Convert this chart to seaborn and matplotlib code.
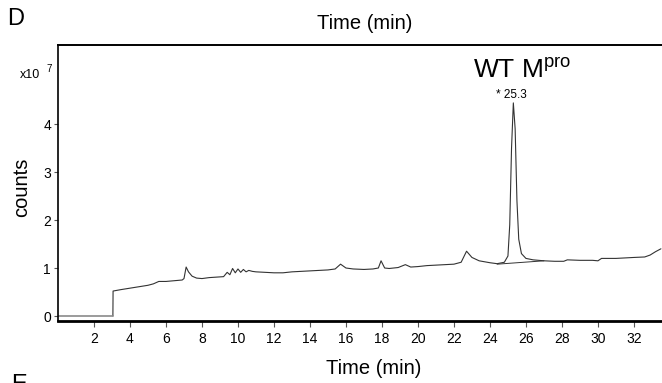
import matplotlib

matplotlib.use("Agg")
import matplotlib.pyplot as plt
import pandas as pd
import seaborn as sns

# chromatogram trace (time in min, counts in units of 1e7)
time_min = [
    3.05, 3.06, 3.5, 4.0, 4.5, 5.0, 5.3, 5.6, 6.0, 6.3, 6.6, 6.9, 7.0, 7.12, 7.25,
    7.45, 7.7, 8.0, 8.4, 8.8, 9.2, 9.4, 9.55, 9.7, 9.85, 10.0, 10.15, 10.3, 10.45,
    10.6, 10.8, 11.0, 11.5, 12.0, 12.5, 13.0, 13.5, 14.0, 14.5, 15.0, 15.4, 15.7,
    16.0, 16.4, 17.0, 17.5, 17.8, 17.95, 18.15, 18.4, 18.9, 19.3, 19.6, 20.0, 20.5,
    21.0, 21.5, 22.0, 22.4, 22.7, 23.0, 23.4, 24.0, 24.4, 24.8, 25.0, 25.1, 25.2,
    25.3, 25.4, 25.5, 25.6, 25.75, 26.0, 26.4, 27.0, 27.6, 28.1, 28.3, 29.0, 29.7,
    30.0, 30.2, 31.0, 31.5, 32.0, 32.6, 32.9, 33.2, 33.5,
]
counts_e7 = [
    0.0, 0.52, 0.55, 0.58, 0.61, 0.64, 0.67, 0.72, 0.72, 0.73, 0.74, 0.75, 0.78, 1.02, 0.92,
    0.83, 0.79, 0.78, 0.80, 0.81, 0.82, 0.91, 0.86, 0.99, 0.90, 0.98, 0.91, 0.97, 0.92,
    0.95, 0.93, 0.92, 0.91, 0.90, 0.90, 0.92, 0.93, 0.94, 0.95, 0.96, 0.98, 1.08,
    1.00, 0.98, 0.97, 0.98, 1.00, 1.15, 1.00, 0.99, 1.01, 1.07, 1.02, 1.03, 1.05,
    1.06, 1.07, 1.08, 1.12, 1.35, 1.22, 1.15, 1.11, 1.09, 1.12, 1.25, 1.90, 3.50,
    4.44, 3.90, 2.40, 1.60, 1.30, 1.20, 1.17, 1.15, 1.14, 1.14, 1.17, 1.16, 1.16,
    1.15, 1.20, 1.20, 1.21, 1.22, 1.23, 1.27, 1.34, 1.40,
]

# flat part before the injection
lead_time = [0.0, 3.05]
lead_counts = [0.0, 0.0]

# integration baseline under the main peak
base_time = [24.4, 27.0]
base_counts = [1.08, 1.15]

peak_time = 25.3
peak_label = "* 25.3"
x_ticks = list(range(2, 34, 2))
y_ticks = [0, 1, 2, 3, 4]

sns.set_style("ticks")
plt.rcParams["font.family"] = ["Liberation Sans", "DejaVu Sans"]
plt.rcParams["text.color"] = "black"
plt.rcParams["mathtext.fontset"] = "custom"
plt.rcParams["mathtext.rm"] = "Liberation Sans"
narrow = ["Liberation Sans Narrow", "Liberation Sans", "DejaVu Sans"]

fig = plt.figure(figsize=(6.62, 3.83), dpi=100)
ax = fig.add_axes([58 / 662, 1 - 321 / 383, 1 - 58 / 662, (321 - 45) / 383])

trace = pd.DataFrame({"time": time_min, "counts": counts_e7})
sns.lineplot(data=trace, x="time", y="counts", ax=ax, color="#333333", lw=0.8,
             estimator=None, sort=False)
sns.lineplot(x=lead_time, y=lead_counts, ax=ax, color="#8a8a8a", lw=1.2, estimator=None)
sns.lineplot(x=base_time, y=base_counts, ax=ax, color="#333333", lw=0.7, estimator=None)

ax.set_xlim(0, 33.56)
ax.set_ylim(-0.104, 5.646)
ax.set_xticks(x_ticks)
ax.set_yticks(y_ticks)
ax.set_xlabel("")
ax.set_ylabel("")
for lab in ax.get_xticklabels() + ax.get_yticklabels():
    lab.set_family(narrow)
    lab.set_fontsize(10)
ax.tick_params(axis="x", length=4, width=0.8, pad=4, color="#555555", labelcolor="black")
ax.tick_params(axis="y", length=3, width=0.8, pad=2, color="#555555", labelcolor="black")

ax.spines["right"].set_visible(False)
ax.spines["left"].set_linewidth(1.2)
ax.spines["top"].set_linewidth(1.4)
ax.spines["bottom"].set_linewidth(2.0)
for s in ax.spines.values():
    s.set_color("black")

ax.text(23.06, 4.96, "WT M$^{\\mathrm{pro}}$", fontsize=19, va="baseline", ha="left")
ax.text(peak_time - 0.1, 4.6, peak_label, fontsize=8.5, ha="center", va="center",
        family=narrow)

fig.text(40 / 662, 1 - 75 / 383, "x10", fontsize=9, ha="right", va="center", family=narrow)
fig.text(46 / 662, 1 - 69 / 383, "7", fontsize=7, ha="left", va="center", family=narrow)
fig.text(7 / 662, 1 - 8 / 383, "D", fontsize=17, ha="left", va="top")
fig.text(365 / 662, 1 - 14 / 383, "Time (min)", fontsize=14.5, ha="center", va="top")
fig.text(374 / 662, 1 - 369 / 383, "Time (min)", fontsize=14.5, ha="center", va="center")
fig.text(22 / 662, 1 - 187 / 383, "counts", fontsize=14.5, rotation=90, ha="center",
         va="center")
fig.text(11 / 662, 1 - 374 / 383, "E", fontsize=17, ha="left", va="top")

fig.savefig("out.png", dpi=100)
